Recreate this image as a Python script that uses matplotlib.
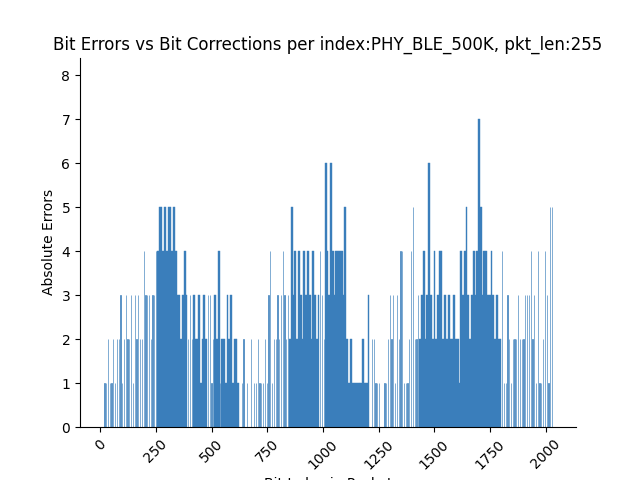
import matplotlib
matplotlib.use("Agg")
import matplotlib.pyplot as plt
import numpy as np

# error count per byte of the packet (8 bits each)
BYTE_ERRORS = [
    0, 0, 1, 1, 2, 1, 1, 2, 1, 2, 2, 3, 1, 2, 3, 2,
    2, 3, 1, 3, 2, 3, 2, 2, 4, 3, 3, 3, 2, 3, 3, 4,
    4, 5, 5, 4, 5, 4, 5, 5, 4, 5, 4, 3, 3, 2, 3, 4,
    3, 2, 3, 2, 3, 2, 2, 3, 1, 2, 3, 2, 3, 3, 1, 2,
    3, 2, 4, 1, 2, 2, 1, 3, 2, 3, 1, 2, 2, 1, 0, 1,
    2, 0, 1, 0, 2, 0, 1, 1, 2, 1, 1, 1, 2, 1, 3, 4,
    1, 2, 2, 3, 2, 3, 4, 3, 2, 3, 2, 5, 3, 4, 2, 4,
    3, 2, 4, 3, 4, 3, 2, 4, 3, 2, 3, 4, 3, 2, 6, 4,
    3, 6, 4, 3, 4, 4, 4, 4, 3, 5, 2, 1, 2, 1, 1, 1,
    1, 1, 1, 2, 1, 1, 3, 0, 2, 2, 1, 1, 1, 0, 0, 1,
    1, 2, 3, 2, 3, 1, 3, 2, 4, 4, 1, 1, 1, 2, 4, 5,
    2, 2, 3, 2, 3, 4, 2, 3, 6, 3, 2, 4, 2, 3, 4, 4,
    2, 3, 2, 3, 2, 2, 3, 2, 2, 1, 4, 3, 4, 5, 3, 2,
    3, 4, 3, 4, 7, 5, 3, 4, 4, 3, 3, 4, 3, 2, 3, 2,
    2, 4, 1, 1, 3, 2, 1, 2, 2, 2, 3, 2, 2, 2, 3, 3,
    3, 4, 2, 3, 1, 4, 1, 1, 2, 4, 3, 1, 5, 5, 0,
]
# byte ranges where every bit in the byte has errors (solid blocks)
DENSE_BYTES = [(32, 48), (52, 59), (64, 66), (68, 77), (106, 122),
               (126, 150), (179, 224)]

COLOR = "#3a7ebb"

dense = np.zeros(len(BYTE_ERRORS), dtype=bool)
for a, b in DENSE_BYTES:
    dense[a:b + 1] = True
vals = np.array(BYTE_ERRORS)
idx = np.arange(len(vals))

fig, ax = plt.subplots(figsize=(6.4, 4.8), dpi=100)
ax.bar(idx[dense] * 8, vals[dense], width=8, align="edge", color=COLOR,
       edgecolor=COLOR, linewidth=0.3)
ax.bar(idx[~dense] * 8 + 3, vals[~dense], width=1.0, align="edge",
       color=COLOR, edgecolor=COLOR, linewidth=0.45)

ax.set_xlim(-90, 2135)
ax.set_ylim(0, 8.4)
ax.set_xticks(np.arange(0, 2001, 250))
ax.tick_params(axis="x", labelrotation=45)
ax.set_xlabel("Bit Index in Packet")
ax.set_ylabel("Absolute Errors")
ax.set_title("Bit Errors vs Bit Corrections per index:PHY_BLE_500K, pkt_len:255")
ax.spines["top"].set_visible(False)
ax.spines["right"].set_visible(False)
fig.savefig("out.png", dpi=100)
